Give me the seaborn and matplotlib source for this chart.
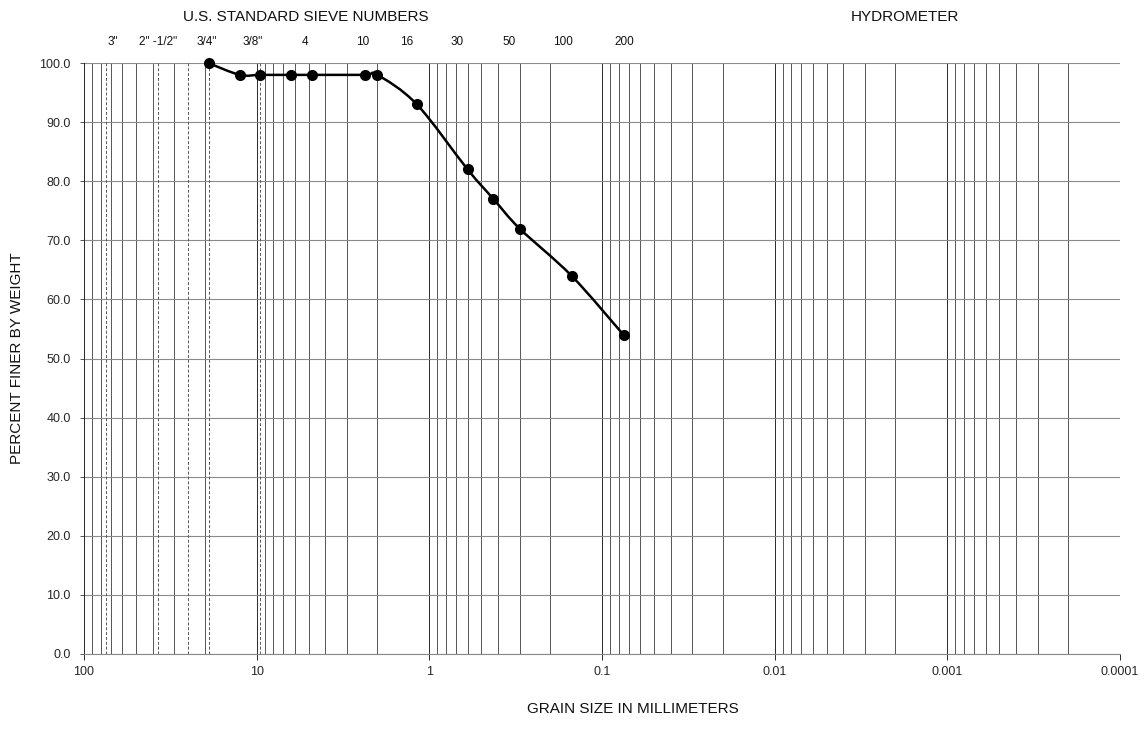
import numpy as np
import matplotlib
matplotlib.use("Agg")
import matplotlib.pyplot as plt
from matplotlib.path import Path
from matplotlib.patches import PathPatch
from matplotlib.ticker import FixedLocator, LogLocator, NullFormatter
import seaborn as sns

# Sieve analysis results
grain_size_mm = [19.0, 12.5, 9.5, 6.3, 4.75, 2.36, 2.0, 1.18, 0.6, 0.425, 0.3, 0.15, 0.075]
percent_finer = [100, 98, 98, 98, 98, 98, 98, 93, 82, 77, 72, 64, 54]

# Sieve names along the top and where they are written (mm)
sieve_labels = ['3"', '2" -1/2"', '3/4"', '3/8"', '4', '10', '16', '30', '50', '100', '200']
sieve_label_mm = [68, 37.3, 19.4, 10.5, 5.25, 2.42, 1.35, 0.69, 0.346, 0.168, 0.0747]

# Coarse sieve openings drawn as dashed guides (mm)
inch_sieves_mm = [75, 37.5, 25, 19, 9.5]

x_major = [100, 10, 1, 0.1, 0.01, 0.001, 0.0001]
x_major_labels = ["100", "10", "1", "0.1", "0.01", "0.001", "0.0001"]
y_ticks = list(range(0, 101, 10))

sns.set_theme(style="white")
plt.rcParams["font.family"] = ["Liberation Sans", "DejaVu Sans"]

fig = plt.figure(figsize=(11.44, 7.42), dpi=100)
ax = fig.add_axes([0.0734, 0.1186, 0.9056, 0.7964])

ax.set_xscale("log")
ax.set_xlim(100, 0.0001)
ax.set_ylim(0, 100)

# Grid: every log subdivision vertically, every 10 % horizontally
ax.xaxis.set_major_locator(FixedLocator(x_major))
ax.set_xticklabels(x_major_labels)
ax.xaxis.set_minor_locator(LogLocator(base=10, subs=np.arange(2, 10)))
ax.xaxis.set_minor_formatter(NullFormatter())
ax.set_yticks(y_ticks)
ax.set_yticklabels([f"{v:.1f}" for v in y_ticks])

ax.grid(which="major", axis="x", color="#2a2a2a", lw=0.7)
ax.grid(which="minor", axis="x", color="#3a3a3a", lw=0.6)
ax.grid(which="major", axis="y", color="#8a8a8a", lw=0.8)

for d in inch_sieves_mm:
    ax.axvline(d, color="#555555", lw=0.7, ls=(0, (3, 2)), zorder=1)

for side in ["top", "right"]:
    ax.spines[side].set_visible(False)
ax.spines["left"].set_color("#2a2a2a")
ax.spines["left"].set_linewidth(0.7)
ax.spines["bottom"].set_color("#8a8a8a")
ax.spines["bottom"].set_linewidth(0.8)

ax.tick_params(axis="x", which="major", direction="out", length=4, width=0.7,
               color="#2a2a2a", labelsize=9, pad=5, bottom=True)
ax.tick_params(axis="x", which="minor", length=0)
ax.tick_params(axis="y", direction="out", length=3, width=0.7, color="#555555",
               labelsize=9, pad=6.5, left=True)

# Smooth gradation curve: Catmull-Rom style Bezier in (log size, percent) space
lx = np.log10(np.array(grain_size_mm, dtype=float))
py = np.array(percent_finer, dtype=float)
pts = np.column_stack([lx, py])
n = len(pts)
verts = [pts[0]]
codes = [Path.MOVETO]
for i in range(n - 1):
    p0 = pts[max(i - 1, 0)]
    p1 = pts[i]
    p2 = pts[i + 1]
    p3 = pts[min(i + 2, n - 1)]
    c1 = p1 + (p2 - p0) / 6.0
    c2 = p2 - (p3 - p1) / 6.0
    verts += [c1, c2, p2]
    codes += [Path.CURVE4] * 3
verts = np.array(verts)
verts[:, 0] = 10 ** verts[:, 0]
ax.add_patch(PathPatch(Path(verts, codes), fill=False, edgecolor="black", lw=1.8,
                       zorder=4, clip_on=False))

sns.scatterplot(x=grain_size_mm, y=percent_finer, ax=ax, color="black", s=64,
                edgecolor="black", linewidth=0, zorder=5, clip_on=False, legend=False)

# Header texts
for lbl, pos in zip(sieve_labels, sieve_label_mm):
    ax.text(pos, 1.0355, lbl, transform=ax.get_xaxis_transform(), ha="center",
            va="center", fontsize=8.5, color="#111111")

fig.text(0.267, 0.987, "U.S. STANDARD SIEVE NUMBERS", ha="center", va="top",
         fontsize=11, color="#111111")
fig.text(0.791, 0.987, "HYDROMETER", ha="center", va="top", fontsize=11,
         color="#111111")
fig.text(0.553, 0.035, "GRAIN SIZE IN MILLIMETERS", ha="center", va="bottom",
         fontsize=11, color="#111111")
fig.text(0.009, 0.5175, "PERCENT FINER BY WEIGHT", ha="left", va="center",
         rotation=90, fontsize=11, color="#111111")

fig.savefig("out.png", dpi=100, facecolor="white")
